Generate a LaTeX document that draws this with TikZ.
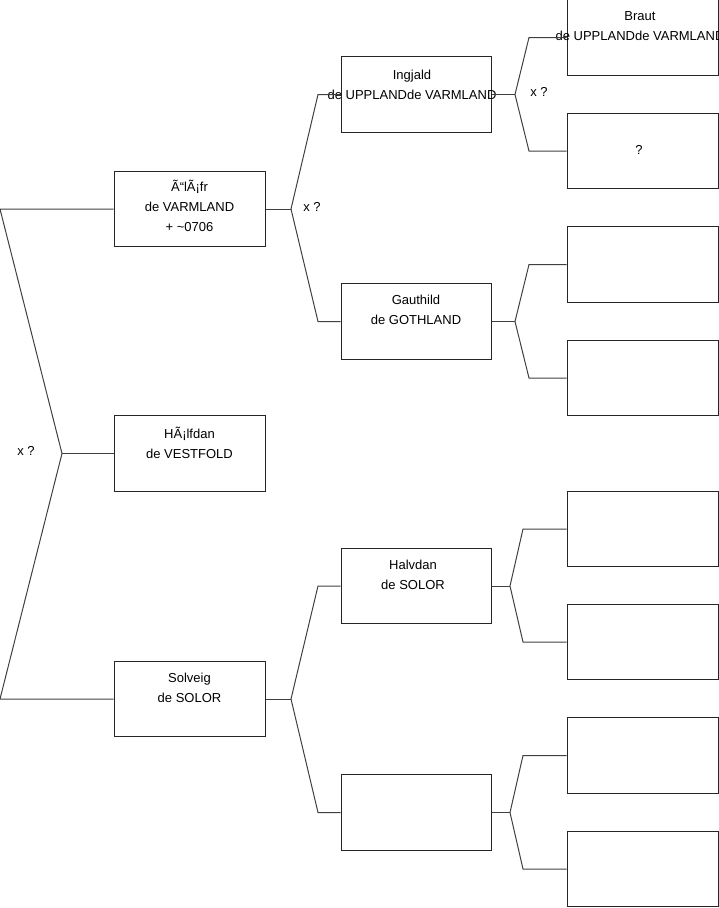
\documentclass[tikz,border=0pt]{standalone}
\usepackage{fontspec}
\setmainfont{Liberation Sans}
\begin{document}
\begin{tikzpicture}[x=1pt,y=-1pt,
  pbox/.style={draw=black!85,line width=1pt,minimum width=151pt,minimum height=75.5pt,inner sep=0pt},
  ptext/.style={font=\fontsize{13}{20}\selectfont,align=center,inner sep=0pt},
  conn/.style={draw=black!75,line width=1pt},
  xlab/.style={font=\fontsize{13}{16}\selectfont,inner sep=0pt}]
\useasboundingbox (0,0) rectangle (719,908);
% column 1
\node[pbox] (olafr) at (189.5,209) {};
\node[pbox] (halfdan) at (189.5,453.5) {};
\node[pbox] (solveig) at (189.5,699) {};
% column 2
\node[pbox,minimum width=150pt] (ingjald) at (416,94.5) {};
\node[pbox,minimum width=150pt] (gauthild) at (416,321.5) {};
\node[pbox,minimum width=150pt] (halvdan) at (416,586) {};
\node[pbox,minimum width=150pt] (empty) at (416,812.5) {};
% column 3
\node[pbox] (braut) at (642.5,37.5) {};
\node[pbox] (qbox) at (642.5,151) {};
\node[pbox] (c3) at (642.5,264.5) {};
\node[pbox] (c4) at (642.5,378) {};
\node[pbox] (c5) at (642.5,529) {};
\node[pbox] (c6) at (642.5,642) {};
\node[pbox] (c7) at (642.5,755.5) {};
\node[pbox] (c8) at (642.5,869) {};
% texts
\node[ptext] (tolafr) at (189.5,206) {Ã“lÃ¡fr\\de VARMLAND\\+ \textasciitilde0706};
\node[ptext] (thalfdan) at (189.5,443) {HÃ¡lfdan\\de VESTFOLD};
\node[ptext] (tsolveig) at (189.5,688) {Solveig\\de SOLOR};
\node[ptext] (tingjald) at (412,85) {Ingjald\\de UPPLANDde VARMLAND};
\node[ptext] (tgauthild) at (416,310) {Gauthild\\de GOTHLAND};
\node[ptext] (thalvdan) at (413,575) {Halvdan\\de SOLOR};
\node[ptext] (tbraut) at (640,26.5) {Braut\\de UPPLANDde VARMLAND};
\node[ptext] (tq) at (639,150) {?};
% x ? labels
\node[xlab] (x1) at (26,451) {x ?};
\node[xlab] (x2) at (312,207) {x ?};
\node[xlab] (x3) at (539,92) {x ?};
% fork coordinates
\coordinate (f0a) at (0,209);
\coordinate (f0) at (62,453.5);
\coordinate (f0b) at (0,699);
\coordinate (f1) at (291,209);
\coordinate (f1a) at (318,94.5);
\coordinate (f1b) at (318,321.5);
\coordinate (f2) at (291,699);
\coordinate (f2a) at (318,586);
\coordinate (f2b) at (318,812.5);
\coordinate (f3) at (515,94.5);
\coordinate (f3a) at (529,37.5);
\coordinate (f3b) at (529,151);
\coordinate (f4) at (515,321.5);
\coordinate (f4a) at (529,264.5);
\coordinate (f4b) at (529,378);
\coordinate (f5) at (510,586);
\coordinate (f5a) at (523,529);
\coordinate (f5b) at (523,642);
\coordinate (f6) at (510,812.5);
\coordinate (f6a) at (523,755.5);
\coordinate (f6b) at (523,869);
% connectors
\draw[conn] (olafr.west) -- (f0a) -- (f0) -- (f0b) -- (solveig.west);
\draw[conn] (f0) -- (halfdan.west);
\draw[conn] (olafr.east) -- (f1);
\draw[conn] (ingjald.west) -- (f1a) -- (f1) -- (f1b) -- (gauthild.west);
\draw[conn] (solveig.east) -- (f2);
\draw[conn] (halvdan.west) -- (f2a) -- (f2) -- (f2b) -- (empty.west);
\draw[conn] (ingjald.east) -- (f3);
\draw[conn] (braut.west) -- (f3a) -- (f3) -- (f3b) -- (qbox.west);
\draw[conn] (gauthild.east) -- (f4);
\draw[conn] (c3.west) -- (f4a) -- (f4) -- (f4b) -- (c4.west);
\draw[conn] (halvdan.east) -- (f5);
\draw[conn] (c5.west) -- (f5a) -- (f5) -- (f5b) -- (c6.west);
\draw[conn] (empty.east) -- (f6);
\draw[conn] (c7.west) -- (f6a) -- (f6) -- (f6b) -- (c8.west);
\end{tikzpicture}
\end{document}
